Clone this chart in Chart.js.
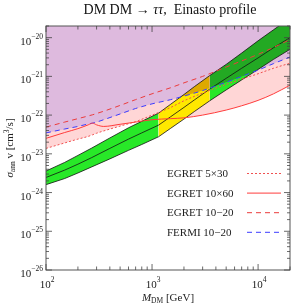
<!DOCTYPE html>
<html>
<head>
<meta charset="utf-8">
<script src="https://cdn.jsdelivr.net/npm/chart.js@4.4.0/dist/chart.umd.min.js"></script>
<style>
  html, body { margin: 0; padding: 0; background: #fff; }
  #wrap { width: 294px; height: 304px; position: relative; }
</style>
</head>
<body>
<div id="wrap"><canvas id="chart"></canvas></div>
<script>
// dark matter mass (GeV) where the limits are read
const limitMass = [100, 150, 200, 250, 275, 300, 350, 500, 700, 1000, 1500, 2000, 3000, 5000, 7000, 10000, 14000, 20000];
// upper limits on sigma v (cm^3/s)
const egret5x30 = [1.38e-23, 1.91e-23, 2.4e-23, 2.82e-23, 3.1e-23, 3.4e-23, 3.9e-23, 5.2e-23, 6.8e-23, 1.0e-22, 1.58e-22, 2.34e-22, 3.7e-22, 6.2e-22, 8.5e-22, 1.17e-21, 1.62e-21, 2.19e-21];
const egret10x60 = [2.51e-23, 3.55e-23, 4.47e-23, 5.6e-23, 6.2e-23, 5.6e-23, 5.1e-23, 5.8e-23, 6.6e-23, 7.6e-23, 8.1e-23, 8.5e-23, 1.0e-22, 1.35e-22, 1.74e-22, 2.4e-22, 3.55e-22, 5.9e-22];
const egret1020 = [4.9e-23, 6.6e-23, 8.1e-23, 9.5e-23, 1.02e-22, 1.1e-22, 1.26e-22, 1.78e-22, 2.51e-22, 3.55e-22, 5.1e-22, 6.8e-22, 1.0e-21, 1.74e-21, 2.51e-21, 3.7e-21, 5.6e-21, 8.9e-21];
const fermi1020 = [3.47e-23, 4.37e-23, 5.1e-23, 5.9e-23, 6.2e-23, 6.6e-23, 7.6e-23, 1.07e-22, 1.48e-22, 1.95e-22, 2.51e-22, 3.1e-22, 4.3e-22, 7.1e-22, 1.0e-21, 1.45e-21, 2.14e-21, 3.16e-21];

// favoured band
const bandMass = [100, 150, 200, 270, 400, 600, 800, 1150, 1500, 2000, 2500, 3500, 5000, 7000, 10000, 14000, 20000];
const bandMid = [2.45e-24, 3.8e-24, 5.4e-24, 8.0e-24, 1.38e-23, 2.4e-23, 3.47e-23, 5.5e-23, 9.1e-23, 1.58e-22, 2.45e-22, 4.7e-22, 8.9e-22, 1.62e-21, 3.0e-21, 5.5e-21, 1.0e-20];
const bandHigh = [3.6e-24, 6.0e-24, 9.1e-24, 1.41e-23, 2.57e-23, 4.7e-23, 6.9e-23, 1.12e-22, 1.91e-22, 3.4e-22, 5.4e-22, 1.05e-21, 2.04e-21, 4.0e-21, 8.3e-21, 1.6e-20, 3.2e-20];
const bandLow = [1.6e-24, 2.3e-24, 3.2e-24, 4.6e-24, 7.4e-24, 1.23e-23, 1.74e-23, 2.75e-23, 4.57e-23, 7.9e-23, 1.23e-22, 2.34e-22, 4.47e-22, 8.1e-22, 1.51e-21, 2.75e-21, 5.0e-21];
const yellowFrom = 1150, yellowTo = 3500;

const xTicks = [100, 1000, 10000];
const yTicks = [1e-26, 1e-25, 1e-24, 1e-23, 1e-22, 1e-21, 1e-20];

const legendItems = [
    { label: 'EGRET 5\u00d730', color: 'rgb(240,80,80)', dash: [2, 2] },
    { label: 'EGRET 10\u00d760', color: 'rgb(255,60,60)', dash: [] },
    { label: 'EGRET 10\u221220', color: 'rgb(235,60,60)', dash: [5, 4] },
    { label: 'FERMI 10\u221220', color: 'rgb(60,60,255)', dash: [5, 4] }
];

const PURPLE = 'rgb(222,186,222)';
const PINK = 'rgb(255,214,214)';
const GREEN = 'rgb(40,232,40)';
const YELLOW = 'rgb(255,232,0)';
const NONE = 'rgba(0,0,0,0)';
const SERIF = '"Liberation Serif", "DejaVu Serif", serif';

function pts(xs, ys, from, to) {
    const out = [];
    for (let i = from || 0; i <= (to === undefined ? ys.length - 1 : to); i++) out.push({ x: xs[i], y: ys[i] });
    return out;
}

// lets a dataset be composited with "multiply" (must run before filler)
const blendPlugin = {
    id: 'blend',
    beforeDatasetDraw(chart, args) {
        const ds = chart.data.datasets[args.index];
        if (ds.blend) {
            chart.ctx.save();
            chart.ctx.globalCompositeOperation = ds.blend;
        }
    },
    afterDatasetDraw(chart, args) {
        if (chart.data.datasets[args.index].blend) chart.ctx.restore();
    }
};
const filler = Chart.registry.getPlugin('filler');
Chart.unregister(filler);
Chart.register(blendPlugin, filler);

function rich(ctx, parts, x, y, align) {
    let w = 0;
    parts.forEach(p => {
        ctx.font = (p.italic ? 'italic ' : '') + p.size + 'px ' + SERIF;
        p.w = ctx.measureText(p.t).width;
        w += p.w;
    });
    let cx = align === 'right' ? x - w : align === 'center' ? x - w / 2 : x;
    ctx.textAlign = 'left';
    ctx.textBaseline = 'alphabetic';
    parts.forEach(p => {
        ctx.font = (p.italic ? 'italic ' : '') + p.size + 'px ' + SERIF;
        ctx.fillText(p.t, cx, y + (p.dy || 0));
        cx += p.w;
    });
}

function expOf(v) {
    return Math.round(Math.log10(v)).toString().replace('-', '\u2212');
}

const framePlugin = {
    id: 'frame',
    afterDraw(chart) {
        const ctx = chart.ctx;
        const a = chart.chartArea;
        const xs = chart.scales.x, ys = chart.scales.y;
        ctx.save();
        ctx.strokeStyle = '#555';
        ctx.lineWidth = 1;
        ctx.strokeRect(a.left, a.top, a.right - a.left, a.bottom - a.top);

        // ticks on all four sides, pointing inward
        ctx.strokeStyle = '#444';
        ctx.lineWidth = 0.8;
        ctx.beginPath();
        for (let d = 100; d <= 10000; d *= 10) {
            for (let m = 1; m <= 9; m++) {
                const v = d * m;
                if (v > xs.max) break;
                const px = xs.getPixelForValue(v);
                const len = m === 1 ? 6 : 3.5;
                ctx.moveTo(px, a.bottom); ctx.lineTo(px, a.bottom - len);
                ctx.moveTo(px, a.top); ctx.lineTo(px, a.top + len);
            }
        }
        for (let e = -26; e <= -20; e++) {
            for (let m = 1; m <= 9; m++) {
                const v = m * Math.pow(10, e);
                if (v > ys.max * 1.0001) break;
                const py = ys.getPixelForValue(v);
                const len = m === 1 ? 6 : 3;
                ctx.moveTo(a.left, py); ctx.lineTo(a.left + len, py);
                ctx.moveTo(a.right, py); ctx.lineTo(a.right - len, py);
            }
        }
        ctx.stroke();

        // tick labels
        ctx.fillStyle = '#222';
        yTicks.forEach(v => {
            const py = ys.getPixelForValue(v);
            rich(ctx, [{ t: '10', size: 11 }, { t: expOf(v), size: 7.5, dy: -6 }], a.left - 3, py + 7, 'right');
        });
        xTicks.forEach(v => {
            const px = xs.getPixelForValue(v);
            rich(ctx, [{ t: '10', size: 11 }, { t: expOf(v), size: 7.5, dy: -6 }], px + 1, a.bottom + 18, 'center');
        });

        // axis titles
        rich(ctx, [{ t: 'M', size: 11, italic: true }, { t: 'DM', size: 7.5, dy: 2 }, { t: ' [GeV]', size: 11 }],
            (a.left + a.right) / 2, 301, 'center');
        ctx.save();
        ctx.translate(13, (a.top + a.bottom) / 2);
        ctx.rotate(-Math.PI / 2);
        rich(ctx, [{ t: '\u03c3', size: 11, italic: true }, { t: 'ann', size: 7.5, dy: 2 },
            { t: ' v [cm', size: 11 }, { t: '3', size: 7.5, dy: -4 }, { t: '/s]', size: 11 }], 0, 0, 'center');
        ctx.restore();

        // title
        ctx.fillStyle = '#111';
        rich(ctx, [{ t: 'DM DM \u2192 ', size: 14 }, { t: '\u03c4\u03c4', size: 14, italic: true },
            { t: ',  Einasto profile', size: 14 }], 170, 14, 'center');

        // legend
        legendItems.forEach((it, i) => {
            const y = 173 + i * 19.6;
            ctx.fillStyle = '#222';
            rich(ctx, [{ t: it.label, size: 11 }], 167, y + 4, 'left');
            ctx.strokeStyle = it.color;
            ctx.lineWidth = 1;
            ctx.setLineDash(it.dash);
            ctx.beginPath();
            ctx.moveTo(247, y + 0.5); ctx.lineTo(281, y + 0.5);
            ctx.stroke();
        });
        ctx.setLineDash([]);
        ctx.restore();
    }
};

const smooth = { pointRadius: 0, cubicInterpolationMode: 'monotone' };
const straight = { pointRadius: 0, tension: 0 };
const area = { borderWidth: 1, borderColor: NONE };
const iY0 = bandMass.indexOf(yellowFrom);
const iY1 = bandMass.indexOf(yellowTo);
const iEnd = bandMass.length - 1;
const L = 12; // index of first limit line dataset

new Chart(document.getElementById('chart'), {
    type: 'line',
    data: {
        datasets: [
            // 0: excluded by FERMI (purple, multiplied over the band)
            { ...smooth, ...area, data: pts(limitMass, fermi1020), fill: 'end', backgroundColor: PURPLE, blend: 'multiply', order: 5 },
            // 1, 2: pink region down to the lower EGRET limit
            { ...smooth, ...area, data: pts(limitMass, fermi1020), fill: L, backgroundColor: PINK, order: 10 },
            { ...smooth, ...area, data: pts(limitMass, fermi1020), fill: L + 1, backgroundColor: PINK, order: 10 },
            // 3..8: band fill, green / yellow / green
            { ...straight, ...area, data: pts(bandMass, bandHigh, 0, iY0), fill: '+1', backgroundColor: GREEN, order: 4 },
            { ...straight, ...area, data: pts(bandMass, bandLow, 0, iY0), fill: false, order: 4 },
            { ...straight, ...area, data: pts(bandMass, bandHigh, iY0, iY1), fill: '+1', backgroundColor: YELLOW, order: 8 },
            { ...straight, ...area, data: pts(bandMass, bandLow, iY0, iY1), fill: false, order: 8 },
            { ...straight, ...area, data: pts(bandMass, bandHigh, iY1, iEnd), fill: '+1', backgroundColor: GREEN, order: 8 },
            { ...straight, ...area, data: pts(bandMass, bandLow, iY1, iEnd), fill: false, order: 8 },
            // 9..11: band edges and centre
            { ...straight, data: pts(bandMass, bandHigh), fill: false, borderColor: '#111', borderWidth: 0.8, order: 3 },
            { ...straight, data: pts(bandMass, bandLow), fill: false, borderColor: '#111', borderWidth: 0.8, order: 3 },
            { ...straight, data: pts(bandMass, bandMid), fill: false, borderColor: '#111', borderWidth: 0.8, order: 3 },
            // 12..15: limit lines
            { ...smooth, data: pts(limitMass, egret10x60), fill: false, borderColor: legendItems[1].color, borderWidth: 1, order: 1 },
            { ...smooth, data: pts(limitMass, egret5x30), fill: false, borderColor: legendItems[0].color, borderWidth: 1, borderDash: [2, 2], order: 1 },
            { ...smooth, data: pts(limitMass, egret1020), fill: false, borderColor: legendItems[2].color, borderWidth: 1, borderDash: [5, 4], order: 1 },
            { ...smooth, data: pts(limitMass, fermi1020), fill: false, borderColor: legendItems[3].color, borderWidth: 1, borderDash: [5, 4], order: 1 }
        ]
    },
    options: {
        responsive: true,
        maintainAspectRatio: false,
        animation: false,
        layout: { padding: { left: 46, right: 4, top: 26, bottom: 34 } },
        plugins: { legend: { display: false }, tooltip: { enabled: false } },
        scales: {
            x: { type: 'logarithmic', min: 100, max: 20000, display: false },
            y: { type: 'logarithmic', min: 1e-26, max: 2e-20, display: false }
        }
    },
    plugins: [framePlugin]
});
</script>
</body>
</html>
